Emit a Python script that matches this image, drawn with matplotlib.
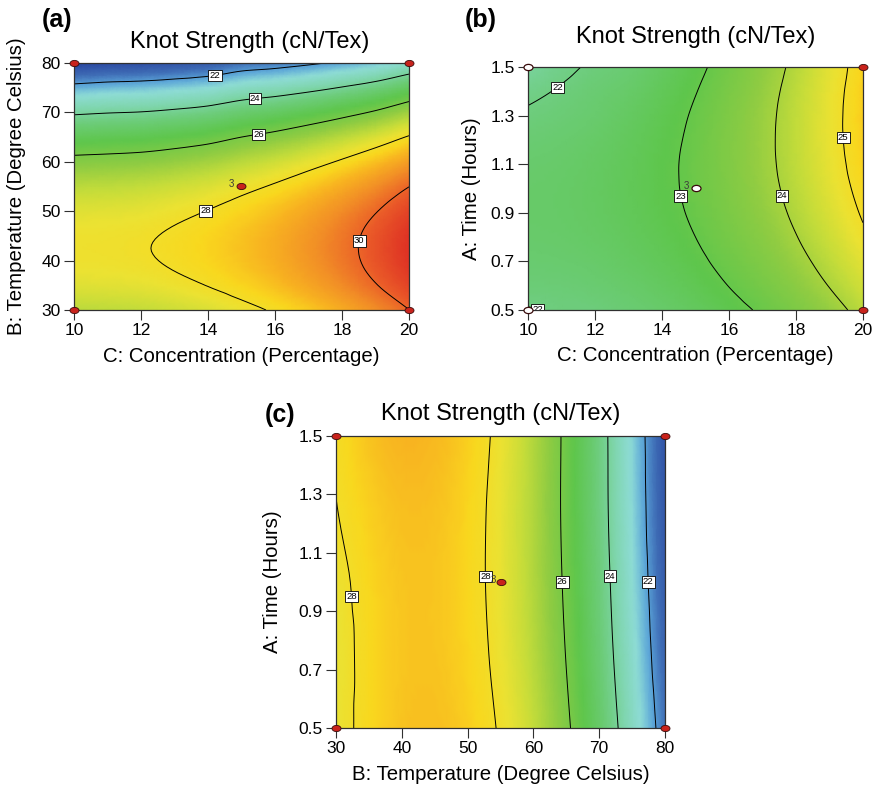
import numpy as np
import matplotlib
matplotlib.use('Agg')
import matplotlib.pyplot as plt
import matplotlib.tri as mtri
from matplotlib.colors import LinearSegmentedColormap, Normalize
from matplotlib.path import Path

plt.rcParams['font.family'] = ['Liberation Sans', 'DejaVu Sans']

# Ejes del diseño
conc = [10, 11, 12, 13, 14, 15, 16, 17, 18, 19, 20]
temp = [30, 35, 40, 45, 50, 55, 60, 65, 70, 75, 80]
time_b = [0.5, 0.6, 0.7, 0.8, 0.9, 1.0, 1.1, 1.2, 1.3, 1.4, 1.5]
time_c = [0.5, 0.75, 1.0, 1.25, 1.5]

# (a) Knot strength, filas = temperatura, columnas = concentracion
ks_a = [
    [27.04, 27.08, 27.15, 27.30, 27.50, 27.78, 28.09, 28.47, 28.91, 29.41, 29.99],
    [27.57, 27.60, 27.67, 27.82, 28.02, 28.29, 28.61, 29.00, 29.45, 29.96, 30.54],
    [27.84, 27.86, 27.93, 28.08, 28.28, 28.55, 28.87, 29.27, 29.72, 30.24, 30.82],
    [27.84, 27.86, 27.93, 28.08, 28.28, 28.55, 28.87, 29.27, 29.72, 30.24, 30.82],
    [27.57, 27.60, 27.67, 27.82, 28.02, 28.29, 28.61, 29.00, 29.45, 29.96, 30.54],
    [27.04, 27.08, 27.15, 27.30, 27.50, 27.78, 28.09, 28.47, 28.91, 29.41, 29.99],
    [26.25, 26.30, 26.37, 26.52, 26.72, 27.02, 27.31, 27.68, 28.10, 28.59, 29.17],
    [25.19, 25.26, 25.33, 25.48, 25.68, 26.00, 26.27, 26.62, 27.02, 27.49, 28.07],
    [23.86, 23.96, 24.03, 24.18, 24.38, 24.72, 24.97, 25.29, 25.67, 26.11, 26.69],
    [22.27, 22.40, 22.47, 22.62, 22.82, 23.19, 23.41, 23.70, 24.05, 24.46, 25.04],
    [20.42, 20.58, 20.65, 20.80, 21.00, 21.41, 21.59, 21.85, 22.16, 22.54, 23.12],
]

# (b) filas = tiempo, columnas = concentracion
ks_b = [
    [21.98, 22.06, 22.08, 22.21, 22.37, 22.57, 22.82, 23.08, 23.40, 23.77, 24.20],
    [22.15, 22.17, 22.25, 22.37, 22.54, 22.75, 23.01, 23.29, 23.63, 24.02, 24.47],
    [22.27, 22.30, 22.37, 22.50, 22.67, 22.89, 23.17, 23.46, 23.82, 24.23, 24.70],
    [22.35, 22.38, 22.46, 22.59, 22.77, 23.00, 23.29, 23.60, 23.98, 24.41, 24.90],
    [22.39, 22.42, 22.51, 22.65, 22.84, 23.08, 23.38, 23.71, 24.11, 24.56, 25.06],
    [22.38, 22.42, 22.52, 22.67, 22.87, 23.13, 23.44, 23.79, 24.20, 24.67, 25.18],
    [22.32, 22.38, 22.49, 22.65, 22.87, 23.14, 23.47, 23.83, 24.26, 24.74, 25.27],
    [22.22, 22.29, 22.42, 22.60, 22.83, 23.12, 23.47, 23.84, 24.28, 24.78, 25.32],
    [22.07, 22.17, 22.31, 22.51, 22.76, 23.07, 23.43, 23.82, 24.27, 24.78, 25.34],
    [21.88, 22.05, 22.22, 22.39, 22.66, 22.98, 23.36, 23.76, 24.23, 24.75, 25.32],
    [21.64, 21.88, 22.08, 22.23, 22.52, 22.86, 23.26, 23.67, 24.15, 24.68, 25.27],
]

# (c) filas = tiempo, columnas = temperatura
ks_c = [
    [27.70, 28.23, 28.55, 28.61, 28.40, 27.92, 27.17, 26.15, 24.86, 23.31, 21.49],
    [27.70, 28.21, 28.51, 28.54, 28.30, 27.79, 27.01, 25.97, 24.65, 23.07, 21.22],
    [27.78, 28.26, 28.53, 28.53, 28.26, 27.72, 26.92, 25.85, 24.51, 22.90, 21.02],
    [27.98, 28.37, 28.61, 28.58, 28.29, 27.72, 26.89, 25.79, 24.42, 22.79, 20.88],
    [28.06, 28.54, 28.76, 28.70, 28.38, 27.79, 26.93, 25.80, 24.41, 22.74, 20.81],
]

levels_a = [22, 24, 26, 28, 30]
levels_b = [22, 23, 24, 25]
levels_c = [22, 24, 26, 28]

# puntos de diseño
pts_a = ([10, 10, 20, 20, 15], [30, 80, 30, 80, 55])
pts_b_red = ([20, 20], [0.5, 1.5])
pts_b_white = ([10, 10, 15], [0.5, 1.5, 1.0])
pts_c = ([30, 30, 80, 80, 55], [0.5, 1.5, 0.5, 1.5, 1.0])

colores = [
    (0.000, '#26409c'), (0.105, '#3f6db6'), (0.170, '#5aa4d8'),
    (0.238, '#8edcd6'), (0.314, '#80d6b0'), (0.400, '#6ccc78'),
    (0.486, '#5ec64c'), (0.581, '#90cc42'), (0.648, '#c4dc3a'),
    (0.705, '#ece232'), (0.752, '#f9d81e'), (0.800, '#f8b420'),
    (0.860, '#f29026'), (0.930, '#ea5a28'), (1.000, '#de3024'),
]
cmap = LinearSegmentedColormap.from_list('de', colores)

circ = Path.unit_circle()
elipse = Path(circ.vertices * [1.45, 1.0], circ.codes)


def malla_suave(x, y, z):
    # triangulacion en indices de la rejilla y refinamiento cubico de matplotlib
    ii, jj = np.meshgrid(np.arange(len(x)), np.arange(len(y)))
    tri = mtri.Triangulation(ii.ravel().astype(float), jj.ravel().astype(float))
    ref = mtri.UniformTriRefiner(tri)
    interp = mtri.CubicTriInterpolator(tri, np.ravel(z), kind='geom')
    tri_f, z_f = ref.refine_field(np.ravel(z), triinterpolator=interp, subdiv=3)
    xf = np.interp(tri_f.x, np.arange(len(x)), x)
    yf = np.interp(tri_f.y, np.arange(len(y)), y)
    return mtri.Triangulation(xf, yf, tri_f.triangles), z_f


def dibujar(ax, x, y, z, levels, norm, manual, pad):
    tri_f, z_f = malla_suave(x, y, z)
    ax.tripcolor(tri_f, z_f, shading='gouraud', cmap=cmap, norm=norm)
    cs = ax.tricontour(tri_f, z_f, levels=levels, colors='black', linewidths=0.7)
    txts = ax.clabel(cs, fmt='%d', fontsize=6.8, inline=False, manual=manual)
    for t in txts:
        t.set_rotation(0)
        t.set_bbox(dict(boxstyle='square,pad=0.12', fc='white', ec='black', lw=0.6))
    ax.set_xlim(x[0], x[-1])
    ax.set_ylim(y[0], y[-1])
    for s in ax.spines.values():
        s.set_color('#303030')
        s.set_linewidth(0.9)
    ax.tick_params(direction='out', length=7, width=0.8, color='#303030',
                   labelsize=12.5, pad=2.5)
    ax.set_title('Knot Strength (cN/Tex)', fontsize=17, pad=pad)


def puntos(ax, xs, ys, fc):
    ax.plot(xs, ys, ls='none', marker=elipse, ms=6.5, mfc=fc, mec='#3a0c0c',
            mew=0.9 if fc == 'white' else 0.6, clip_on=False, zorder=6)


def tres(ax, x, y, dx=-5):
    ax.annotate('3', (x, y), xytext=(dx, 1.5), textcoords='offset points',
                ha='right', va='center', fontsize=7, color='#3c3c3c', zorder=7)


fig = plt.figure(figsize=(8.78, 7.91), dpi=100)
ax_a = fig.add_axes([0.0843, 0.6081, 0.3815, 0.3123])
ax_b = fig.add_axes([0.6014, 0.6081, 0.3815, 0.3072])
ax_c = fig.add_axes([0.3827, 0.0796, 0.3747, 0.3692])

norm_ac = Normalize(20.3, 30.9)
norm_b = Normalize(18.6, 27.4)

# (a)
dibujar(ax_a, conc, temp, ks_a, levels_a, norm_ac,
        [(14.2, 77.9), (15.4, 72.9), (15.5, 65.7), (13.9, 50.5), (18.5, 44.0)], 11)
ax_a.title.set_x(0.525)
ax_a.set_xticks([10, 12, 14, 16, 18, 20])
ax_a.set_yticks([30, 40, 50, 60, 70, 80])
ax_a.set_xlabel('C: Concentration (Percentage)', fontsize=14.7)
ax_a.set_ylabel('B: Temperature (Degree Celsius)', fontsize=14.7)
puntos(ax_a, *pts_a, '#c8231c')
tres(ax_a, 15, 55)

# (b)
dibujar(ax_b, conc, time_b, ks_b, levels_b, norm_b,
        [(10.8, 1.43), (10.45, 0.52), (14.6, 0.97), (17.6, 0.97), (19.5, 1.21)], 17)
ax_b.set_xticks([10, 12, 14, 16, 18, 20])
ax_b.set_yticks([0.5, 0.7, 0.9, 1.1, 1.3, 1.5])
ax_b.set_yticklabels(['0.5', '0.7', '0.9', '1.1', '1.3', '1.5'])
ax_b.set_xlabel('C: Concentration (Percentage)', fontsize=14.7)
ax_b.set_ylabel('A: Time (Hours)', fontsize=14.7)
puntos(ax_b, *pts_b_red, '#c8231c')
puntos(ax_b, *pts_b_white, 'white')
tres(ax_b, 15, 1.0)

# (c)
dibujar(ax_c, temp, time_c, ks_c, levels_c, norm_ac,
        [(32.3, 0.95), (52.2, 1.02), (64.2, 1.0), (71.4, 1.02), (77.3, 1.0)], 11.5)
ax_c.set_xticks([30, 40, 50, 60, 70, 80])
ax_c.set_yticks([0.5, 0.7, 0.9, 1.1, 1.3, 1.5])
ax_c.set_yticklabels(['0.5', '0.7', '0.9', '1.1', '1.3', '1.5'])
ax_c.set_xlabel('B: Temperature (Degree Celsius)', fontsize=14.7)
ax_c.set_ylabel('A: Time (Hours)', fontsize=14.7)
puntos(ax_c, *pts_c, '#c8231c')
tres(ax_c, 55, 1.0, dx=-3.5)

ax_a.xaxis.set_label_coords(0.5, -0.150)
ax_a.yaxis.set_label_coords(-0.143, 0.5)
ax_b.xaxis.set_label_coords(0.5, -0.150)
ax_b.yaxis.set_label_coords(-0.140, 0.5)
ax_c.xaxis.set_label_coords(0.5, -0.125)
ax_c.yaxis.set_label_coords(-0.164, 0.5)

fig.text(42 / 878, 1 - 27 / 791, '(a)', fontsize=18, fontweight='bold', va='baseline')
fig.text(465 / 878, 1 - 27 / 791, '(b)', fontsize=18, fontweight='bold', va='baseline')
fig.text(265 / 878, 1 - 422 / 791, '(c)', fontsize=18, fontweight='bold', va='baseline')

fig.savefig('out.png', dpi=100)
